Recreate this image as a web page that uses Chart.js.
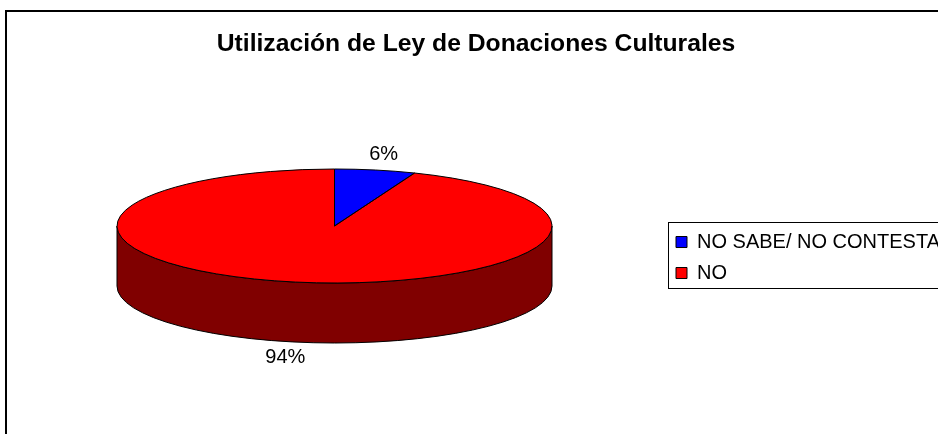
<!DOCTYPE html>
<html>
<head>
    <meta charset="UTF-8">
    <title>Utilización de Ley de Donaciones Culturales</title>
    <script src="https://cdn.jsdelivr.net/npm/chart.js"></script>
    <style>
        body { margin: 0; overflow: hidden; background: #fff; }
        canvas { position: absolute; left: 0; top: 0; }
    </style>
</head>
<body>
    <canvas id="pieChart" width="950" height="434"></canvas>

    <script>
        // data
        const categories = ['NO SABE/ NO CONTESTA', 'NO'];
        const values = [6, 94];
        const topColors = ['#0000FF', '#FF0000'];
        const sideColors = ['#000080', '#800000'];

        // 3D ellipse geometry (screen pixels)
        const CX = 334.5, CY = 226, RX = 217.5, RY = 57, DEPTH = 60;
        const FONT = '"Liberation Sans", Arial, sans-serif';

        const pie3d = {
            id: 'pie3d',
            beforeDraw(chart) {
                // outer chart frame
                const ctx = chart.ctx;
                ctx.save();
                ctx.strokeStyle = '#000';
                ctx.lineWidth = 2;
                ctx.strokeRect(6, 11, 1200, 1000);
                ctx.restore();
            },
            beforeDatasetsDraw(chart) {
                const ctx = chart.ctx;
                const arcs = chart.getDatasetMeta(0).data;
                // side walls: only the front half (0..PI) is visible
                arcs.forEach((arc, i) => {
                    const a1 = Math.max(arc.startAngle, 0);
                    const a2 = Math.min(arc.endAngle, Math.PI);
                    if (a1 >= a2) return;
                    ctx.beginPath();
                    ctx.ellipse(CX, CY, RX, RY, 0, a1, a2);
                    ctx.ellipse(CX, CY + DEPTH, RX, RY, 0, a2, a1, true);
                    ctx.closePath();
                    ctx.fillStyle = sideColors[i];
                    ctx.fill();
                    ctx.strokeStyle = '#000';
                    ctx.lineWidth = 1;
                    ctx.stroke();
                });
                // squash the library's round pie into the top ellipse
                const a = arcs[0];
                ctx.save();
                ctx.translate(CX, CY);
                ctx.scale(RX / a.outerRadius, RY / a.outerRadius);
                ctx.translate(-a.x, -a.y);
            },
            afterDatasetsDraw(chart) {
                const ctx = chart.ctx;
                ctx.restore();
                const arcs = chart.getDatasetMeta(0).data;
                const total = values.reduce((s, v) => s + v, 0);
                arcs.forEach((arc, i) => {
                    // outline of the top face
                    ctx.beginPath();
                    ctx.moveTo(CX, CY);
                    ctx.ellipse(CX, CY, RX, RY, 0, arc.startAngle, arc.endAngle);
                    ctx.closePath();
                    ctx.strokeStyle = '#000';
                    ctx.lineWidth = 1;
                    ctx.stroke();

                    // percentage label
                    const mid = (arc.startAngle + arc.endAngle) / 2;
                    const lx = CX + (RX + 45) * Math.cos(mid);
                    let ly = CY + (RY + 16) * Math.sin(mid);
                    if (Math.sin(mid) > 0) ly += DEPTH;
                    ctx.fillStyle = '#000';
                    ctx.font = '20px ' + FONT;
                    ctx.textAlign = 'center';
                    ctx.textBaseline = 'middle';
                    ctx.fillText(Math.round(values[i] / total * 100) + '%', lx, ly);
                });
            },
            afterDraw(chart) {
                // frame around the legend
                const lg = chart.legend;
                const ctx = chart.ctx;
                ctx.save();
                ctx.strokeStyle = '#000';
                ctx.lineWidth = 1;
                ctx.strokeRect(lg.left + 3.5, 222.5, 400, 66);
                ctx.restore();
            }
        };

        new Chart(document.getElementById('pieChart'), {
            type: 'pie',
            data: {
                labels: categories,
                datasets: [{
                    data: values,
                    backgroundColor: topColors,
                    borderWidth: 0,
                    clip: false
                }]
            },
            options: {
                responsive: false,
                animation: false,
                devicePixelRatio: 1,
                layout: { padding: { left: 2, right: 0, top: 0, bottom: 0 } },
                plugins: {
                    title: {
                        display: true,
                        text: 'Utilización de Ley de Donaciones Culturales',
                        color: '#000',
                        font: { family: FONT, size: 24.7, weight: 'bold', lineHeight: 1.2 },
                        padding: { top: 29, bottom: 22.4 }
                    },
                    legend: {
                        position: 'right',
                        fullSize: false,
                        labels: {
                            color: '#000',
                            font: { family: FONT, size: 20 },
                            boxWidth: 11,
                            boxHeight: 11,
                            padding: 11,
                            generateLabels: () => categories.map((c, i) => ({
                                text: c,
                                fillStyle: topColors[i],
                                strokeStyle: '#000',
                                lineWidth: 1,
                                hidden: false,
                                index: i
                            }))
                        }
                    },
                    tooltip: { enabled: false }
                }
            },
            plugins: [pie3d]
        });
    </script>
</body>
</html>
